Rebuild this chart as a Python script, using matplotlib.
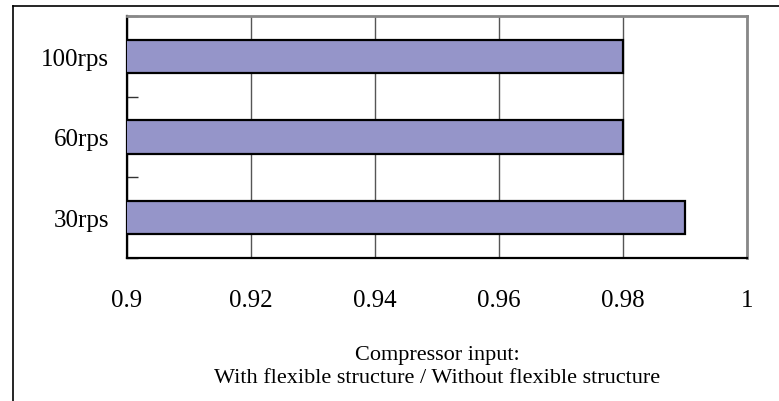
import numpy as np
import matplotlib
matplotlib.use('Agg')
import matplotlib.pyplot as plt
from matplotlib.lines import Line2D

plt.rcParams['font.family'] = ['Liberation Serif', 'DejaVu Serif']

categories = ['30rps', '60rps', '100rps']  # bottom to top
ratio = [0.99, 0.98, 0.98]  # with / without flexible structure
xticks = [0.9, 0.92, 0.94, 0.96, 0.98, 1.0]
xticklabels = ['0.9', '0.92', '0.94', '0.96', '0.98', '1']

W, H = 779, 402
fig = plt.figure(figsize=(W/100, H/100), dpi=100)
ax = fig.add_axes([127/W, 1-259/H, (747-127)/W, (259-17)/H])

y = np.arange(len(categories))
ax.barh(y, ratio, left=0, height=0.41, color='#9595C9', edgecolor='black',
        linewidth=1.6, zorder=3)
ax.set_xlim(0.9, 1.0)
ax.set_ylim(-0.5, len(categories)-0.5)

ax.set_xticks(xticks)
ax.set_xticklabels(xticklabels, fontsize=18)
ax.tick_params(axis='x', length=0, pad=22)
ax.set_yticks(y)
ax.set_yticklabels(categories, fontsize=18)
ax.tick_params(axis='y', which='major', length=0, pad=13)
ax.set_yticks(np.arange(len(categories)+1)-0.5, minor=True)
ax.tick_params(axis='y', which='minor', direction='in', length=8, width=1, color='#333333')

ax.grid(axis='x', color='#555555', linewidth=1, zorder=0)
ax.set_axisbelow(True)
for s in ['top', 'right']:
    ax.spines[s].set_color('#888888')
    ax.spines[s].set_linewidth(2)
for s in ['left', 'bottom']:
    ax.spines[s].set_color('black')
    ax.spines[s].set_linewidth(1.6)

ax.set_xlabel('Compressor input:\nWith flexible structure / Without flexible structure',
              fontsize=16, labelpad=25, linespacing=1.3)

# outer chart frame (top and left edges visible)
fig.add_artist(Line2D([12.5/W, 1], [1-7/H, 1-7/H], color='black', linewidth=1.2))
fig.add_artist(Line2D([12.5/W, 12.5/W], [0, 1-7/H], color='black', linewidth=1.2))

fig.savefig('out.png', dpi=100)
